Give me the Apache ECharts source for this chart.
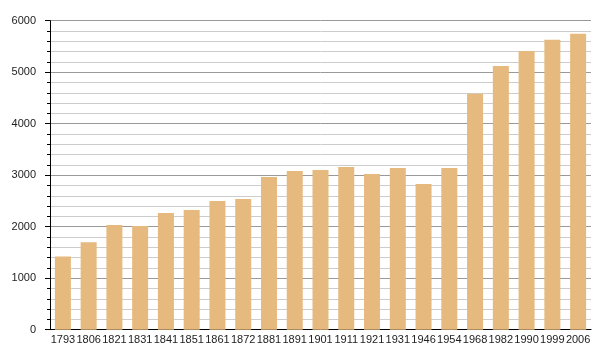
<!DOCTYPE html>
<html><head><meta charset="utf-8">
<script src="https://cdn.jsdelivr.net/npm/echarts@6/dist/echarts.min.js"></script>
<style>html,body{margin:0;padding:0;background:#fff}#c{width:600px;height:360px}</style>
</head><body><div id="c"></div>
<script>
const years = ['1793','1806','1821','1831','1841','1851','1861','1872','1881','1891','1901','1911','1921','1931','1946','1954','1968','1982','1990','1999','2006'];
const population = [1420,1700,2035,2013,2266,2325,2499,2540,2965,3082,3100,3159,3023,3140,2830,3140,4583,5120,5410,5630,5748];
const yTicks = {min:0, max:6000, interval:1000};

const chart = echarts.init(document.getElementById('c'), null, {renderer:'canvas'});
chart.setOption({
  animation:false,
  grid:{left:50, right:9, top:20.7, bottom:30.3},
  xAxis:{
    type:'category', data:years,
    axisLine:{lineStyle:{color:'#000', width:1}},
    axisTick:{show:false},
    axisLabel:{interval:0, color:'#222', fontSize:11, fontFamily:'Liberation Sans, Arial', margin:5}
  },
  yAxis:{
    type:'value', min:yTicks.min, max:yTicks.max, interval:yTicks.interval,
    axisLine:{show:true, lineStyle:{color:'#000', width:1}},
    axisTick:{show:true, length:5, lineStyle:{color:'#000'}},
    minorTick:{show:true, splitNumber:5, length:3, lineStyle:{color:'#000'}},
    splitLine:{show:true, lineStyle:{color:'#999', width:1}},
    minorSplitLine:{show:true, lineStyle:{color:'#ccc', width:1}},
    axisLabel:{color:'#222', fontSize:11, fontFamily:'Liberation Sans, Arial', margin:14,
      formatter:v => String(v)}
  },
  series:[{
    type:'bar', data:population, barWidth:16,
    itemStyle:{color:'#E6B97E'}
  }]
});
</script></body></html>
